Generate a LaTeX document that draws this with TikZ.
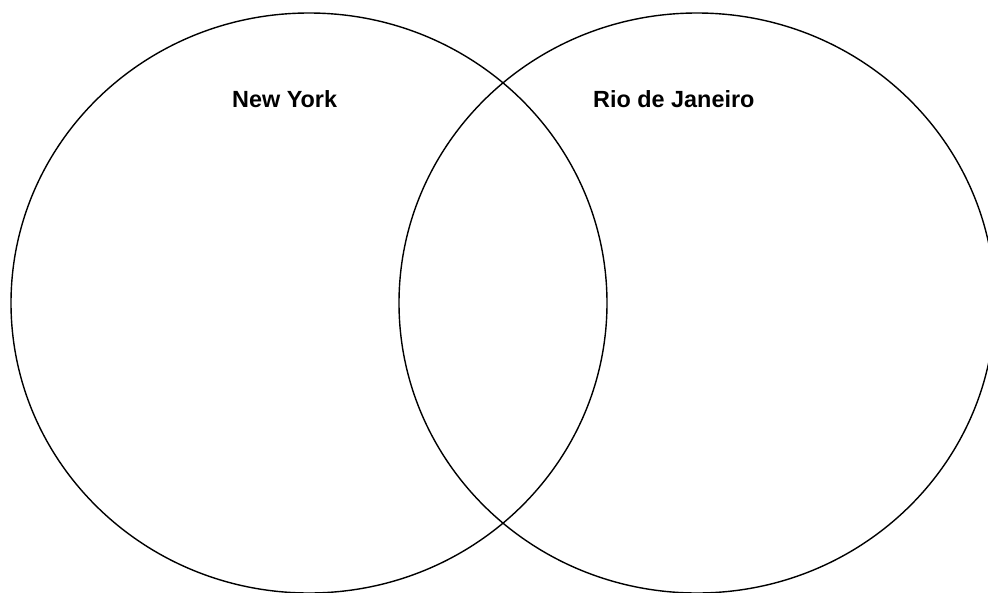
\documentclass[tikz,border=0pt]{standalone}
\usepackage{fontspec}
\setmainfont{Liberation Sans}
\begin{document}
\begin{tikzpicture}[x=1pt,y=-1pt,
  setline/.style={draw=black,line width=1.4pt},
  lbl/.style={anchor=base west,inner sep=0pt,font=\fontsize{23.4pt}{28pt}\selectfont\bfseries}]
\useasboundingbox (0,0) rectangle (988,592);
\clip (0,0) rectangle (988,592);
\fill[white] (0,0) rectangle (988,592);
\draw[setline] (309,303) ellipse [x radius=298, y radius=290];
\draw[setline] (697,303) ellipse [x radius=298, y radius=290];
\node[lbl] (ny) at (232,107) {New York};
\node[lbl] (rio) at (593,107) {Rio de Janeiro};
\end{tikzpicture}
\end{document}
